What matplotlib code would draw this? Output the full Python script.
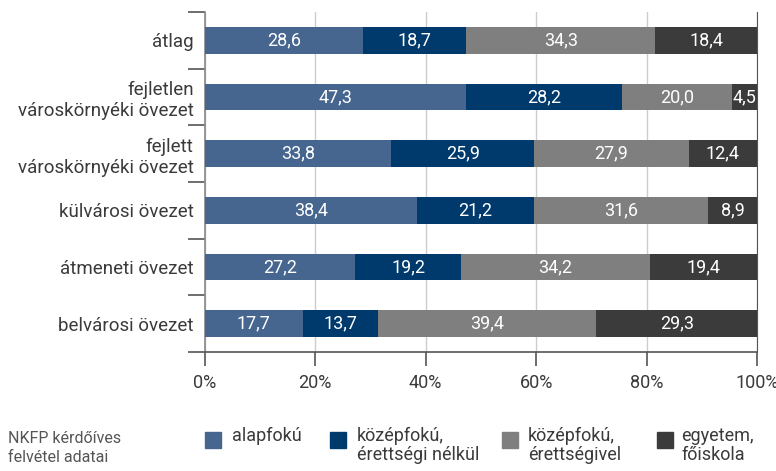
import numpy as np
import matplotlib.pyplot as plt
from matplotlib.patches import Rectangle

plt.rcParams['font.family'] = ['Roboto', 'DejaVu Sans']

categories = ["átlag", "fejletlen\nvároskörnyéki övezet", "fejlett\nvároskörnyéki övezet",
              "külvárosi övezet", "átmeneti övezet", "belvárosi övezet"]
alapfoku = [28.6, 47.3, 33.8, 38.4, 27.2, 17.7]
kozep_nelkul = [18.7, 28.2, 25.9, 21.2, 19.2, 13.7]
kozep_vel = [34.3, 20.0, 27.9, 31.6, 34.2, 39.4]
egyetem = [18.4, 4.5, 12.4, 8.9, 19.4, 29.3]

series = [alapfoku, kozep_nelkul, kozep_vel, egyetem]
series_names = ["alapfokú", "középfokú,\nérettségi nélkül", "középfokú,\nérettségivel", "egyetem,\nfőiskola"]
colors = ["#46668f", "#003a6d", "#7f7f7f", "#3b3b3b"]
xticks = [0, 20, 40, 60, 80, 100]
source = "NKFP kérdőíves\nfelvétel adatai"

text_col = "#3a3a3a"

fig = plt.figure(figsize=(7.76, 4.71), dpi=100)
ax = fig.add_axes([0.264, 0.2527, 0.7115, 0.7218])

y = np.arange(len(categories))
left = np.zeros(len(categories))
for vals, col in zip(series, colors):
    vals = np.array(vals)
    ax.barh(y, vals, left=left, height=0.47, color=col, zorder=3)
    for yi, l, v in zip(y, left, vals):
        ax.text(l + v / 2, yi, f"{v:.1f}".replace(".", ","), ha="center", va="center",
                color="white", fontsize=13, zorder=4)
    left += vals

ax.set_ylim(len(categories) - 0.5, -0.5)
ax.set_xlim(0, 100)
ax.set_yticks(y)
ax.set_yticklabels(categories, fontsize=13.5, color=text_col, linespacing=1.2)
ax.tick_params(axis="y", which="major", length=0, pad=8)
ax.set_yticks(np.arange(-0.5, len(categories), 1), minor=True)
ax.tick_params(axis="y", which="minor", length=12, width=1.2, color="#555555")

ax.set_xticks(xticks)
ax.set_xticklabels([f"{t}%" for t in xticks], fontsize=13, color=text_col)
ax.tick_params(axis="x", length=10, width=1.2, color="#555555", pad=6)
ax.grid(axis="x", color="#cccccc", linewidth=1, zorder=0)

ax.spines["top"].set_visible(False)
ax.spines["left"].set_color("#888888")
ax.spines["right"].set_color("#555555")
ax.spines["bottom"].set_color("#555555")
ax.spines["left"].set_linewidth(1.2)
ax.spines["bottom"].set_linewidth(1.2)

# legend
W, H = 776, 471
sq_x = [205, 330, 502, 657]
tx_x = [232, 357, 528, 681]
for name, col, sx, tx in zip(series_names, colors, sq_x, tx_x):
    fig.patches.append(Rectangle((sx / W, 1 - 448 / H), 16 / W, 16 / H,
                                 transform=fig.transFigure, color=col))
    fig.text(tx / W, 1 - 427 / H, name, ha="left", va="top", fontsize=13,
             color=text_col, linespacing=1.05)

fig.text(8 / W, 1 - 431 / H, source, ha="left", va="top", fontsize=11.5,
         color="#555555", linespacing=1.3)

fig.savefig("out.png", dpi=100)
